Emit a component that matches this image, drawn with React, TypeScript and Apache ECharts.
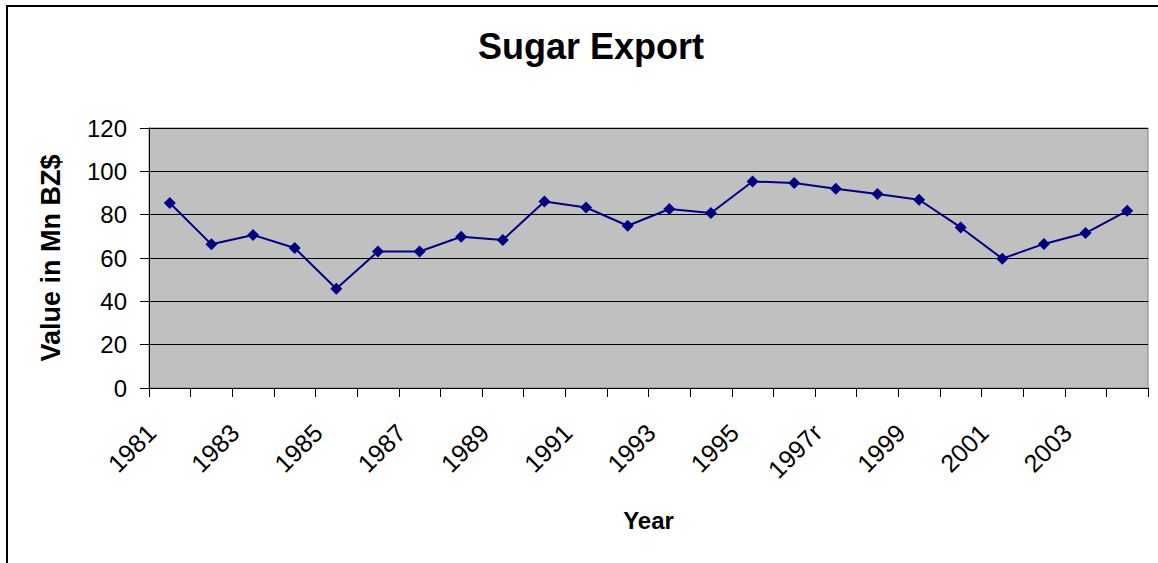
import React, { useEffect, useRef } from "react";
import * as echarts from "echarts";

const categories = [
  "1981", "1982", "1983", "1984", "1985", "1986", "1987", "1988",
  "1989", "1990", "1991", "1992", "1993", "1994", "1995", "1996",
  "1997r", "1998", "1999", "2000", "2001", "2002", "2003", "2004",
];
const sugarExport = [
  85.4, 66.3, 70.6, 64.6, 45.8, 63.0, 63.0, 69.8,
  68.3, 86.1, 83.3, 74.9, 82.6, 80.8, 95.3, 94.6,
  92.0, 89.5, 86.9, 74.1, 59.7, 66.5, 71.5, 81.8,
];
const titleText = "Sugar Export";
const xName = "Year";
const yName = "Value in Mn BZ$";

const FONT = 'Arial, "Liberation Sans", sans-serif';

export default function App() {
  const ref = useRef<HTMLDivElement>(null);
  useEffect(() => {
    if (!ref.current) return;
    const chart = echarts.init(ref.current, undefined, { renderer: "svg" });
    chart.setOption({
      animation: false,
      backgroundColor: "#ffffff",
      title: {
        text: titleText,
        left: 586,
        textAlign: "center",
        top: 23,
        textStyle: { fontFamily: FONT, fontSize: 36, fontWeight: "bold", color: "#000" },
      },
      graphic: [
        {
          type: "rect",
          shape: { x: 7, y: 6, width: 1200, height: 600 },
          style: { fill: "none", stroke: "#000", lineWidth: 2 },
          silent: true,
        },
      ],
      grid: {
        left: 149,
        right: 10,
        top: 128,
        bottom: 175,
        show: true,
        backgroundColor: "#C0C0C0",
        borderColor: "#808080",
        borderWidth: 1,
      },
      xAxis: {
        type: "category",
        data: categories,
        boundaryGap: true,
        name: xName,
        nameLocation: "middle",
        nameGap: 120,
        nameTextStyle: { fontFamily: FONT, fontSize: 24, fontWeight: "bold", color: "#000" },
        axisLine: { show: true, lineStyle: { color: "#000", width: 1 } },
        axisTick: { show: true, length: 9, interval: 0, lineStyle: { color: "#000" } },
        axisLabel: {
          interval: 1,
          rotate: 45,
          margin: 22,
          padding: [0, 26, 0, 0],
          fontFamily: FONT,
          fontSize: 25,
          color: "#000",
        },
        splitLine: { show: false },
      },
      yAxis: {
        type: "value",
        min: 0,
        max: 120,
        interval: 20,
        name: yName,
        nameLocation: "middle",
        nameRotate: 90,
        nameGap: 85,
        nameTextStyle: { fontFamily: FONT, fontSize: 27, fontWeight: "bold", color: "#000" },
        axisLine: { show: true, lineStyle: { color: "#000", width: 1 } },
        axisTick: { show: true, length: 9, lineStyle: { color: "#000" } },
        axisLabel: { margin: 22, fontFamily: FONT, fontSize: 24, color: "#000" },
        splitLine: { show: true, lineStyle: { color: "#000", width: 1 } },
      },
      series: [
        {
          type: "line",
          data: sugarExport,
          symbol: "diamond",
          symbolSize: 12,
          lineStyle: { color: "#000080", width: 2 },
          itemStyle: { color: "#000080" },
        },
      ],
    });
    return () => chart.dispose();
  }, []);
  return (
    <div
      ref={ref}
      style={{ position: "fixed", left: 0, top: 0, width: 1158, height: 563 }}
    />
  );
}
